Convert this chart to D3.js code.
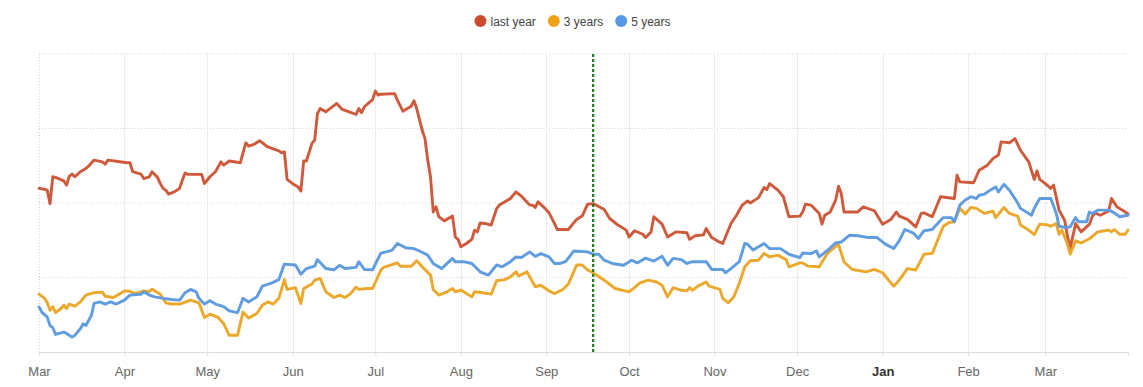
<!DOCTYPE html>
<html><head><meta charset="utf-8">
<script src="https://cdn.jsdelivr.net/npm/d3@7"></script>
<style>
html,body{margin:0;padding:0;background:#fff;}
svg{display:block;font-family:Arial,"Liberation Sans",sans-serif;}
</style></head>
<body><svg id="chart" width="1143" height="387"></svg>
<script>
// Series names and colours
const seriesNames = ["last year", "3 years", "5 years"];
const seriesColors = ["#cf5a3b", "#eca82b", "#5f9ce0"];
const legendColors = ["#cc4b2e", "#f0a317", "#5598e4"];

// Start of the period; each point is [day since start, value]
const startDate = "2022-03-01";
const endDate = "2023-03-31";
const markerDate = "2022-09-18";
const gridValues = [25, 50, 75, 100];

const lastYear = [[0,54.9],[2,54.6],[3,54.3],[4,49.8],[5,58.8],[6,58.6],[9,57.4],[10,56.0],[11,59.0],[12,59.7],[13,58.8],[15,60.5],[17,61.6],[18,62.4],[20,64.4],[23,63.8],[24,63.0],[25,64.4],[28,64.0],[32,63.5],[33,63.5],[34,60.5],[37,59.7],[38,58.2],[40,58.8],[41,60.5],[43,58.6],[44,56.5],[45,54.9],[46,54.3],[47,53.0],[49,53.7],[51,54.9],[52,57.7],[53,60.1],[54,59.6],[59,59.6],[60,56.5],[62,58.8],[64,60.5],[66,63.8],[67,62.7],[69,64.1],[73,63.5],[75,70.2],[76,69.1],[78,69.7],[80,70.9],[83,68.8],[87,67.5],[88,66.8],[89,67.2],[90,57.9],[92,56.5],[94,55.4],[95,54.0],[96,64.1],[97,64.1],[99,70],[100,71.1],[101,80],[102,81.7],[104,80.6],[108,83.4],[110,81.4],[113,80.4],[115,79.7],[116,81.7],[117,80.3],[118,82.3],[121,84.7],[122,87.6],[123,86.2],[124,86.5],[129,86.7],[130,84.5],[132,80.8],[135,82.5],[136,84.3],[137,81.7],[139,74.4],[140,71.6],[141,64.4],[142,58.8],[143,47.0],[144,48.7],[145,45.4],[147,44.0],[150,45.6],[151,38.6],[152,37.8],[153,35.3],[155,36.4],[157,37.8],[158,40.9],[159,40.3],[160,43.3],[162,43.1],[164,42.6],[166,48.1],[167,49.3],[171,51.5],[172,52.6],[173,53.7],[175,52.3],[178,49.3],[179,49.3],[180,48.5],[181,50.4],[183,48.7],[185,46.7],[187,43.1],[188,41.1],[192,41.1],[195,44.5],[197,45.6],[199,49.6],[201,49.8],[205,47.8],[207,44.8],[210,42.6],[213,40.9],[214,38.6],[216,40.7],[219,39.5],[220,38.4],[222,40.3],[223,45.4],[226,42.9],[228,38.6],[231,40.3],[235,40.0],[236,37.8],[238,39.0],[241,39.3],[242,41.4],[244,38.4],[246,37.3],[248,36.4],[251,43.1],[253,45.9],[255,49.2],[257,50.7],[258,50.0],[261,51.8],[263,55.2],[264,54.5],[265,56.5],[268,54.3],[270,52.1],[272,45.4],[276,45.6],[277,47.0],[278,49.6],[280,49.3],[283,46.5],[284,42.9],[285,45.9],[287,47.0],[289,51.1],[290,55.6],[291,53.2],[292,47.0],[297,47.0],[299,48.7],[303,47.4],[306,42.9],[309,44.5],[311,47.0],[312,45.6],[315,44.5],[318,42.0],[320,46.5],[321,46.7],[324,45.4],[327,52.1],[332,51.5],[333,59.3],[334,57.1],[339,56.8],[341,61.0],[344,62.7],[346,64.9],[348,66.1],[349,70.5],[352,70.2],[354,71.6],[356,67.7],[359,63.8],[361,57.9],[362,60.8],[363,57.9],[365,56.5],[367,54.9],[368,56.0],[370,47.6],[372,44.2],[373,39.2],[374,34.7],[375,38.9],[376,43.1],[378,40.3],[381,42.9],[382,45.4],[383,46.7],[385,45.9],[388,47.3],[389,51.5],[391,48.7],[393,47.6],[395,46.3]];

const threeYears = [[0,19.4],[2,18.0],[3,16.5],[4,14.0],[5,15.2],[6,13.2],[8,14.6],[9,15.7],[10,14.6],[11,16.1],[13,15.4],[15,16.8],[17,19.1],[20,19.9],[23,20.1],[24,18.7],[27,18.3],[29,19.4],[31,20.5],[33,20.4],[35,19.6],[38,20.5],[40,20.2],[41,21.1],[44,19.4],[46,16.5],[48,16.1],[51,16.1],[55,17.4],[58,16.5],[60,11.6],[62,12.7],[65,11.6],[67,9.5],[69,5.6],[72,5.6],[74,13.4],[76,11.4],[79,12.9],[81,15.7],[83,16.8],[85,16.1],[87,18.0],[89,24.3],[90,21.0],[93,21.6],[95,16.3],[96,21.3],[99,22.8],[100,24.1],[102,24.7],[104,20.2],[107,18.3],[109,19.1],[111,18.3],[113,19.6],[115,21.8],[116,21.0],[119,21.3],[121,21.3],[124,27.5],[125,28.4],[130,29.9],[131,28.8],[135,28.8],[137,30.6],[139,28.6],[142,25.8],[143,21.0],[145,19.1],[148,20.2],[150,21.3],[151,20.2],[153,20.8],[157,18.5],[158,20.2],[161,19.9],[164,19.4],[166,23.9],[169,24.3],[171,25.2],[173,26.9],[174,25.5],[177,26.9],[180,21.9],[182,22.4],[185,20.5],[187,19.6],[190,21.0],[192,22.8],[195,29.2],[197,29.2],[199,27.5],[201,26.6],[205,24.1],[209,21.3],[214,20.2],[216,21.6],[218,23.2],[221,24.1],[224,23.5],[226,22.4],[228,18.5],[230,21.6],[233,20.7],[235,20.5],[236,21.6],[237,20.7],[239,22.1],[242,23.5],[243,22.1],[247,21.0],[248,18.0],[250,16.5],[252,18.5],[254,23.0],[256,28.6],[258,30.6],[261,30.8],[263,33.1],[265,31.9],[268,32.5],[271,31.0],[272,28.6],[276,29.9],[277,29.9],[279,28.8],[283,28.6],[286,33.1],[288,34.7],[290,36.1],[292,30.2],[295,27.7],[298,27.2],[300,26.9],[303,27.7],[306,26.6],[308,24.3],[310,22.1],[312,24.1],[315,28.0],[318,27.5],[321,32.8],[324,33.1],[328,42.2],[330,43.4],[332,43.7],[334,48.2],[336,46.3],[338,48.5],[340,48.2],[343,46.5],[346,47.3],[347,45.1],[350,48.5],[352,46.5],[355,45.6],[356,42.6],[359,40.9],[361,39.4],[363,42.9],[366,42.6],[367,42.2],[369,43.1],[370,39.5],[371,40.9],[373,36.4],[374,32.8],[376,37.3],[378,36.6],[381,38.0],[384,40.3],[386,40.6],[388,40.9],[389,40.3],[390,41.1],[392,39.5],[394,39.5],[395,40.9]];

const fiveYears = [[0,15.1],[1,13.4],[3,11.7],[4,8.9],[5,8.2],[6,5.9],[9,6.7],[10,6.2],[12,5.0],[13,5.6],[15,7.8],[16,9.5],[17,8.9],[19,12.3],[20,16.3],[22,16.8],[24,16.1],[26,16.8],[28,16.1],[31,17.4],[33,19.1],[37,19.4],[38,20.2],[40,19.1],[42,18.5],[45,18.0],[48,17.6],[51,17.4],[53,19.9],[55,21.0],[57,20.2],[58,18.0],[60,16.1],[62,17.2],[64,16.1],[67,15.2],[69,13.8],[72,13.2],[74,18.0],[76,16.8],[79,18.5],[81,22.1],[84,23.0],[87,24.3],[89,29.5],[93,29.2],[95,26.1],[97,28.0],[100,28.8],[101,31.0],[104,28.0],[107,27.6],[109,29.1],[111,28.0],[115,28.4],[116,30.3],[118,27.7],[121,27.6],[124,33.2],[128,34.1],[130,36.4],[133,35.0],[136,34.7],[138,33.9],[141,32.5],[143,29.7],[146,28.0],[150,31.4],[151,30.3],[154,30.3],[157,29.7],[160,26.9],[163,25.8],[166,29.2],[168,28.6],[171,30.3],[173,31.9],[175,31.7],[178,33.6],[180,32.1],[182,33.0],[185,31.9],[187,29.7],[189,29.7],[191,30.3],[194,33.9],[199,33.6],[201,32.8],[203,32.8],[205,30.8],[208,29.7],[212,29.1],[215,30.8],[217,29.9],[220,31.5],[223,30.5],[226,32.1],[228,29.1],[230,31.4],[233,31.0],[235,29.7],[237,30.3],[242,30.3],[244,27.7],[248,27.7],[249,26.6],[251,28.0],[254,30.3],[256,36.4],[257,36.2],[259,34.2],[263,36.4],[265,34.7],[269,34.7],[272,32.8],[276,31.7],[277,33.2],[280,33.0],[282,33.9],[283,31.9],[286,34.1],[289,36.6],[291,36.9],[294,39.2],[297,39.0],[301,38.4],[304,38.4],[307,36.2],[310,34.7],[312,37.3],[314,41.1],[317,40.0],[319,38.1],[321,40.7],[324,41.1],[325,42.2],[328,45.1],[331,45.1],[332,43.7],[334,49.3],[336,51.0],[338,52.1],[340,51.5],[341,52.6],[343,53.0],[345,54.3],[347,55.4],[348,53.7],[350,56.3],[352,54.3],[355,50.0],[356,48.2],[360,45.9],[361,48.2],[363,51.5],[367,51.5],[369,46.5],[370,42.2],[372,41.8],[374,42.0],[376,45.1],[377,43.7],[380,43.7],[381,47.0],[382,46.5],[384,47.6],[388,47.6],[390,46.7],[392,45.4],[395,45.9]];

const seriesData = [lastYear, threeYears, fiveYears];

const parse = d3.timeParse("%Y-%m-%d");
const t0 = parse(startDate), t1 = parse(endDate);
const svg = d3.select("#chart");
const m = {left: 39, right: 15, top: 54, bottom: 35};
const W = 1143, H = 387;
const x = d3.scaleTime().domain([t0, t1]).range([m.left, W - m.right]);
const y = d3.scaleLinear().domain([0, 100]).range([H - m.bottom, m.top]);

// horizontal dotted gridlines
svg.append("g").selectAll("line").data(gridValues).join("line")
  .attr("x1", m.left).attr("x2", W - m.right)
  .attr("y1", d => y(d)).attr("y2", d => y(d))
  .attr("stroke", "#d6d6d6").attr("stroke-width", 1).attr("stroke-dasharray", "1,2");

// vertical month gridlines
const months = d3.timeMonth.range(t0, d3.timeDay.offset(t1, 1));
svg.append("g").selectAll("line").data(months).join("line")
  .attr("x1", d => Math.round(x(d)) + 0.5).attr("x2", d => Math.round(x(d)) + 0.5)
  .attr("y1", y(100)).attr("y2", y(0))
  .attr("stroke", (d, i) => i === 0 ? "#d0d0d0" : "#ececec")
  .attr("stroke-dasharray", (d, i) => i === 0 ? "1,2" : null);

// x axis
const axis = d3.axisBottom(x).tickValues(months).tickFormat(d3.timeFormat("%b")).tickSize(4).tickPadding(11);
const gx = svg.append("g").attr("transform", `translate(0,${y(0)})`).call(axis);
gx.select(".domain").attr("stroke", "#dcdcdc");
gx.selectAll(".tick line").attr("stroke", "#dcdcdc");
gx.selectAll(".tick text")
  .attr("font-size", 13)
  .attr("font-family", "Arial, 'Liberation Sans', sans-serif")
  .attr("fill", d => d.getMonth() === 0 ? "#333" : "#666")
  .attr("font-weight", d => d.getMonth() === 0 ? "bold" : "normal");

// lines
const line = d3.line()
  .x(d => x(d3.timeDay.offset(t0, d[0])))
  .y(d => y(d[1]));
svg.append("g").selectAll("path").data(seriesData).join("path")
  .attr("d", line)
  .attr("fill", "none")
  .attr("stroke", (d, i) => seriesColors[i])
  .attr("stroke-width", 2.9)
  .attr("stroke-linejoin", "round")
  .attr("stroke-linecap", "round");

// marker line
const mx = x(parse(markerDate));
svg.append("line")
  .attr("x1", mx).attr("x2", mx).attr("y1", y(100)).attr("y2", y(0))
  .attr("stroke", "#1f7a1f").attr("stroke-width", 2.2).attr("stroke-dasharray", "3,2");

// legend
const lg = svg.append("g");
let cx = 0;
seriesNames.forEach((name, i) => {
  const g = lg.append("g");
  g.append("circle").attr("cx", 6).attr("cy", 0).attr("r", 6).attr("fill", legendColors[i]);
  const t = g.append("text").attr("x", 16).attr("y", 4.5).attr("font-size", 12)
    .attr("fill", "#444").text(name);
  const w = 16 + t.node().getComputedTextLength();
  g.attr("transform", `translate(${cx},21)`);
  cx += w + 12;
});
const total = cx - 12;
lg.attr("transform", `translate(${(W - total) / 2 + 1},0)`);
</script></body></html>
